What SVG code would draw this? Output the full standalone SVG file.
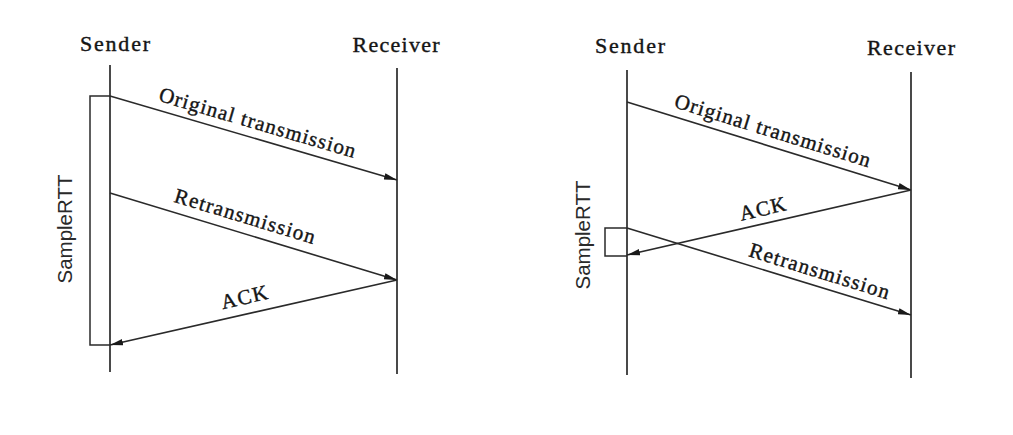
<svg xmlns="http://www.w3.org/2000/svg" width="1013" height="435" viewBox="0 0 1013 435">
<style>
.bg{fill:#ffffff}
.life{stroke:#2a2a2a;stroke-width:1.7;fill:none}
.msg{stroke:#2a2a2a;stroke-width:1.6;fill:none}
.brk{stroke:#2a2a2a;stroke-width:1.5;fill:none}
.hdr{font-family:"Liberation Serif","Times New Roman",serif;font-size:22px;fill:#151515;stroke:#151515;stroke-width:0.4;text-anchor:middle}
.lbl{font-family:"Liberation Serif","Times New Roman",serif;font-size:21px;fill:#151515;stroke:#151515;stroke-width:0.4;text-anchor:middle}
.rtt{font-family:"Liberation Sans",Arial,sans-serif;font-size:20.5px;fill:#2a2a2a;text-anchor:middle}
</style>
<defs>
<marker id="ah" markerUnits="userSpaceOnUse" markerWidth="14" markerHeight="10" refX="13" refY="4" orient="auto">
<path d="M0,0.8 L13,4 L0,7.2 Z" fill="#1a1a1a"/>
</marker>
</defs>
<rect class="bg" x="0" y="0" width="1013" height="435"/>

<g id="left-sender">
<line class="life" x1="110" y1="65" x2="110" y2="372"/>
<text class="hdr" x="115" y="51" textLength="70" lengthAdjust="spacing">Sender</text>
</g>
<g id="left-receiver">
<line class="life" x1="397" y1="68" x2="397" y2="374"/>
<text class="hdr" x="396" y="52" textLength="87" lengthAdjust="spacing">Receiver</text>
</g>
<g id="left-samplertt">
<polyline class="brk" points="110,96 90,96 90,345 110,345"/>
<text class="rtt" transform="translate(72,229) rotate(-90)" x="0" y="0">SampleRTT</text>
</g>

<g id="right-sender">
<line class="life" x1="627" y1="70" x2="627" y2="375"/>
<text class="hdr" x="630" y="53" textLength="70" lengthAdjust="spacing">Sender</text>
</g>
<g id="right-receiver">
<line class="life" x1="911" y1="72" x2="911" y2="378"/>
<text class="hdr" x="911" y="55" textLength="88" lengthAdjust="spacing">Receiver</text>
</g>
<g id="right-samplertt">
<polyline class="brk" points="627,228 605,228 605,256 627,256"/>
<text class="rtt" transform="translate(590,235) rotate(-90)" x="0" y="0">SampleRTT</text>
</g>

<g id="connectors">
<line class="msg" x1="110" y1="96" x2="397" y2="180" marker-end="url(#ah)"/>
<line class="msg" x1="110" y1="193" x2="397" y2="280" marker-end="url(#ah)"/>
<line class="msg" x1="397" y1="280" x2="110" y2="345" marker-end="url(#ah)"/>
<line class="msg" x1="627" y1="102" x2="911" y2="190" marker-end="url(#ah)"/>
<line class="msg" x1="911" y1="190" x2="627" y2="255" marker-end="url(#ah)"/>
<line class="msg" x1="627" y1="228" x2="911" y2="315" marker-end="url(#ah)"/>
</g>

<g id="labels">
<text class="lbl" transform="translate(253,137.9) rotate(16.31)" x="0" y="-9" textLength="204" lengthAdjust="spacing">Original transmission</text>
<text class="lbl" transform="translate(240,232.4) rotate(16.86)" x="0" y="-10" textLength="146" lengthAdjust="spacing">Retransmission</text>
<text class="lbl" transform="translate(248,313.7) rotate(-12.76)" x="0" y="-10" textLength="47" lengthAdjust="spacing">ACK</text>
<text class="lbl" transform="translate(768,145.7) rotate(17.21)" x="0" y="-9" textLength="204" lengthAdjust="spacing">Original transmission</text>
<text class="lbl" transform="translate(766,223.2) rotate(-12.89)" x="0" y="-8" textLength="47" lengthAdjust="spacing">ACK</text>
<text class="lbl" transform="translate(815,285.3) rotate(17.21)" x="0" y="-8" textLength="146" lengthAdjust="spacing">Retransmission</text>
</g>
</svg>
